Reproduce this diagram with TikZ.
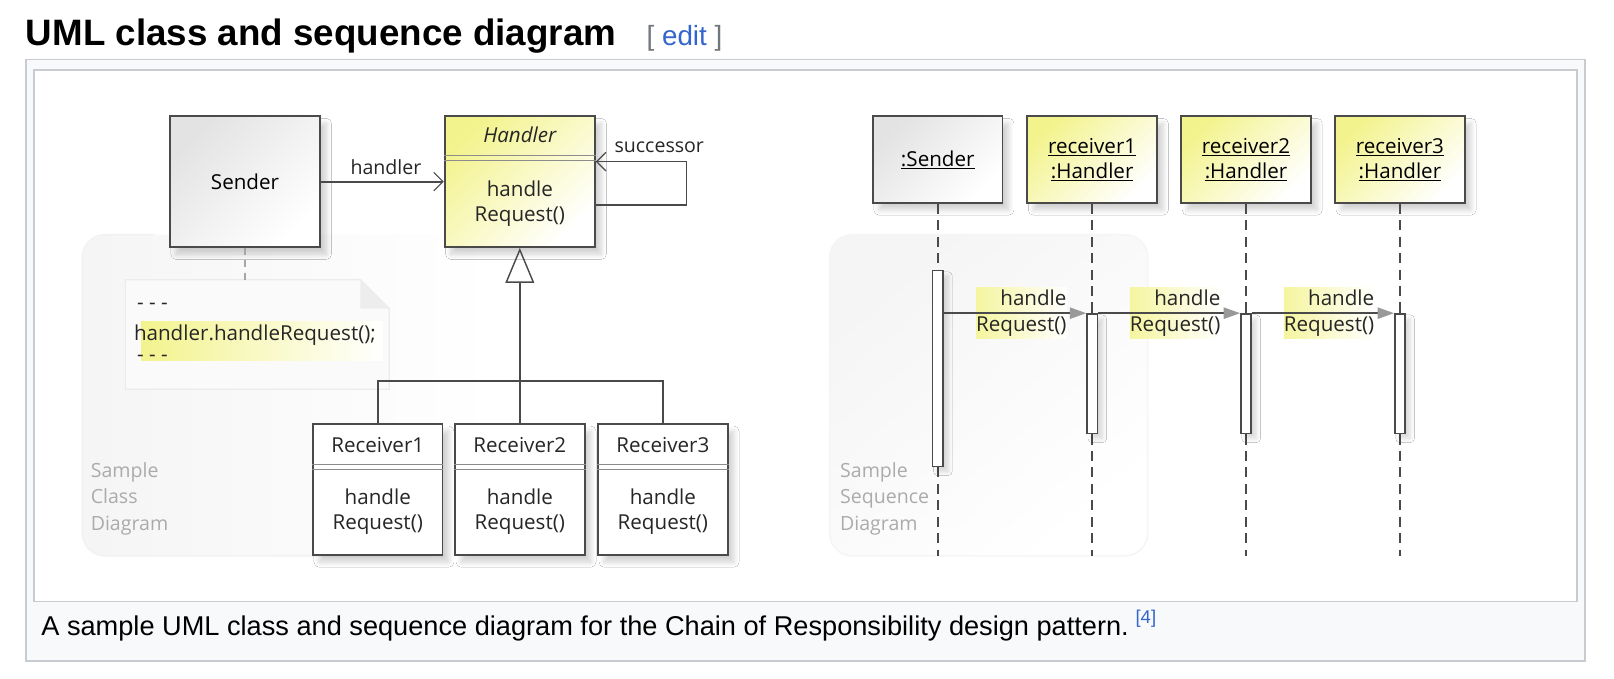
\documentclass[tikz,border=0pt]{standalone}
\usepackage{fontspec}
\setmainfont{Liberation Sans}
\newfontfamily\umlfont{Open Sans}
\usetikzlibrary{arrows.meta,shadows.blur}

\definecolor{linkblue}{HTML}{3366CC}
\definecolor{bracketgray}{HTML}{72777D}
\definecolor{framegray}{HTML}{C8CCD1}
\definecolor{pagegray}{HTML}{F8F9FA}
\definecolor{umldark}{HTML}{4A4A4A}
\definecolor{umlyellow}{HTML}{F3F38E}
\definecolor{palegray}{HTML}{ABABAB}
\newcommand{\umlsize}{\umlfont\fontsize{20}{24}\selectfont}

\begin{document}
\begin{tikzpicture}[x=1pt,y=-1pt]
\tikzset{classbox/.style = {draw=umldark, line width=1.7pt, inner sep=0pt, minimum width=126pt, minimum height=127pt, font=\umlsize, align=center,
  blur shadow={shadow xshift=6pt, shadow yshift=-7pt, shadow blur radius=5pt, shadow blur steps=8, shadow opacity=18}}}
\tikzset{graybox/.style = {classbox, top color=black!11, bottom color=white, shading angle=45}}
\tikzset{yellowbox/.style = {classbox, top color=umlyellow, bottom color=white, shading angle=45}}
\tikzset{umltext/.style = {font=\umlsize, text=black!85, align=center, inner sep=0pt}}
\tikzset{smalltext/.style = {font=\umlfont\fontsize{19}{22}\selectfont, text=black!85, inner sep=0pt}}
\tikzset{paletext/.style = {font=\umlfont\fontsize{19}{25.5}\selectfont, text=palegray, align=left, anchor=west, inner sep=0pt}}
\tikzset{sep/.style = {draw=black!45, line width=1.2pt}}
\tikzset{assoc/.style = {draw=umldark, line width=1.6pt, -{Straight Barb[length=9pt, width=18pt, line width=1.1pt]}}}
\tikzset{hier/.style = {draw=umldark, line width=1.6pt}}
\tikzset{gen/.style = {hier, -{Triangle[open, length=34pt, width=28pt, line width=1.4pt]}}}
\tikzset{notelink/.style = {draw=black!35, line width=1.3pt, dash pattern=on 7pt off 5pt}}
\tikzset{lifeline/.style = {draw=umldark, line width=1.6pt, dash pattern=on 10pt off 6pt}}
\tikzset{actbar/.style = {draw=umldark, line width=1.5pt, fill=white, minimum width=10pt, inner sep=0pt,
  blur shadow={shadow xshift=5pt, shadow yshift=-5pt, shadow blur radius=4pt, shadow blur steps=8, shadow opacity=15}}}
\tikzset{msglabel/.style = {font=\umlfont\fontsize{20}{26}\selectfont, text=black!85, align=right, anchor=east,
  left color=umlyellow!85, right color=white, inner xsep=0pt, inner ysep=2pt}}
\tikzset{msg/.style = {draw=umldark, line width=1.6pt, -{Triangle[length=16pt, width=11pt, color=black!40]}}}
\useasboundingbox (0,0) rectangle (1568,659);
% page frame
\draw[draw=framegray, fill=pagegray, line width=1.5pt] (25,58) rectangle (1540,642);
\draw[draw=framegray, fill=white, line width=1.2pt] (33,68) rectangle (1532,584);
\node[anchor=base west, inner sep=0pt, font=\bfseries\fontsize{35.7}{40}\selectfont] (title) at (25,44) {UML class and sequence diagram};
\node[anchor=base west, inner sep=0pt, font=\fontsize{27}{30}\selectfont] (edit) at (628,44) {\textcolor{bracketgray}{[} \textcolor{linkblue}{edit} \textcolor{bracketgray}{]}};
\node[anchor=base west, inner sep=0pt, font=\fontsize{26.4}{30}\selectfont] (caption) at (40,617) {A sample UML class and sequence diagram for the Chain of Responsibility design pattern.};
\node[anchor=base west, inner sep=0pt, font=\fontsize{18}{20}\selectfont, text=linkblue] (ref) at (1103,606) {[4]};

% backdrops
\shade[rounded corners=22pt, left color=black!4, right color=white] (80,228) rectangle (480,540);
\draw[black!5, line width=1.5pt, rounded corners=22pt] (150,228) -- (80,228) -- (80,540) -- (420,540);
\shade[rounded corners=22pt, top color=black!4, bottom color=white, shading angle=40] (806,228) rectangle (1115,540);
\draw[rounded corners=22pt, draw=black!4, line width=1.5pt] (806,228) rectangle (1115,540);
\node[paletext] (classtag) at (88,484.5) {Sample\\Class\\Diagram};
\node[paletext] (seqtag) at (816,484.5) {Sample\\Sequence\\Diagram};

% note
\node[minimum width=256pt, minimum height=106pt, inner sep=0pt] (note) at (250,325) {};
\draw[draw=black!8, fill=black!2, line width=1.2pt] (note.north west) -- ([xshift=-28pt]note.north east) -- ([yshift=-28pt]note.north east) -- (note.south east) -- (note.south west) -- cycle;
\fill[black!7] ([xshift=-28pt]note.north east) -- ([yshift=-28pt]note.north east) -- ([xshift=-28pt,yshift=-28pt]note.north east) -- cycle;
\shade[left color=umlyellow, right color=white] (137,312) rectangle (372,350);
\node[umltext, anchor=west] (dots1) at (133,298) {- - -};
\node[umltext, anchor=west] (call) at (130,326) {handler.handleRequest();};
\node[umltext, anchor=west] (dots2) at (133,348) {- - -};

% classes
\node[graybox, minimum width=146pt] (sender) at (238,176.5) {Sender};
\node[yellowbox, minimum width=146pt] (handler) at (505,176.5) {};
\draw[sep] ([yshift=-39pt]handler.north west) -- ([yshift=-39pt]handler.north east);
\draw[sep] ([yshift=-44pt]handler.north west) -- ([yshift=-44pt]handler.north east);
\node[umltext, font=\umlsize\itshape] (handlername) at ([yshift=-19pt]handler.north) {Handler};
\node[umltext] (handlerop) at ([yshift=-86pt]handler.north) {handle\\Request()};

\node[classbox, fill=white] (recv1) at (367,475.5) {};
\draw[sep] ([yshift=-40pt]recv1.north west) -- ([yshift=-40pt]recv1.north east);
\draw[sep] ([yshift=-45pt]recv1.north west) -- ([yshift=-45pt]recv1.north east);
\node[umltext] (recv1name) at ([yshift=-21pt]recv1.north) {Receiver1};
\node[umltext] (recv1op) at ([yshift=-86pt]recv1.north) {handle\\Request()};

\node[classbox, fill=white] (recv2) at (505,475.5) {};
\draw[sep] ([yshift=-40pt]recv2.north west) -- ([yshift=-40pt]recv2.north east);
\draw[sep] ([yshift=-45pt]recv2.north west) -- ([yshift=-45pt]recv2.north east);
\node[umltext] (recv2name) at ([yshift=-21pt]recv2.north) {Receiver2};
\node[umltext] (recv2op) at ([yshift=-86pt]recv2.north) {handle\\Request()};

\node[classbox, fill=white] (recv3) at (644,475.5) {};
\draw[sep] ([yshift=-40pt]recv3.north west) -- ([yshift=-40pt]recv3.north east);
\draw[sep] ([yshift=-45pt]recv3.north west) -- ([yshift=-45pt]recv3.north east);
\node[umltext] (recv3name) at ([yshift=-21pt]recv3.north) {Receiver3};
\node[umltext] (recv3op) at ([yshift=-86pt]recv3.north) {handle\\Request()};

% class edges
\draw[notelink] (sender.south) -- (sender.south |- note.north);
\draw[assoc] (sender.east) -- (handler.west) node[pos=1, smalltext, anchor=base east, xshift=-21pt, yshift=7pt] (handlerlabel) {handler};
\draw[assoc] ([yshift=-22.5pt]handler.east) -- ++(88,0) |- ([yshift=19.5pt]handler.east);
\node[smalltext, anchor=base west] (succlabel) at ([xshift=18pt,yshift=28pt]handler.east) {successor};
\coordinate (hub) at (505,370);
\draw[hier] (recv1.north) |- (hub) -| (recv3.north);
\draw[gen] (recv2.north) -- (handler.south);

% lifelines
\node[graybox, minimum height=84pt] (lsender) at (911,155) {\underline{:Sender}};
\node[yellowbox, minimum height=84pt] (lrecv1) at (1061,155) {\underline{receiver1}\\\underline{:Handler}};
\node[yellowbox, minimum height=84pt] (lrecv2) at (1210.5,155) {\underline{receiver2}\\\underline{:Handler}};
\node[yellowbox, minimum height=84pt] (lrecv3) at (1360,155) {\underline{receiver3}\\\underline{:Handler}};
\coordinate (end0) at (911,540);
\coordinate (end1) at (1061,540);
\coordinate (end2) at (1210.5,540);
\coordinate (end3) at (1360,540);
\draw[lifeline] (lsender) -- (end0);
\draw[lifeline] (lrecv1) -- (end1);
\draw[lifeline] (lrecv2) -- (end2);
\draw[lifeline] (lrecv3) -- (end3);
\node[actbar, minimum height=190pt] (act0) at (911,358) {};
\node[actbar, minimum height=116pt] (act1) at (1061,363) {};
\node[actbar, minimum height=116pt] (act2) at (1210.5,363) {};
\node[actbar, minimum height=116pt] (act3) at (1360,363) {};

% messages
\node[msglabel] (msg1) at ([xshift=-19pt]act1.north west) {handle\\Request()};
\node[msglabel] (msg2) at ([xshift=-19pt]act2.north west) {handle\\Request()};
\node[msglabel] (msg3) at ([xshift=-19pt]act3.north west) {handle\\Request()};
\draw[msg] (act0.east |- act1.north) -- (act1.north west);
\draw[msg] (act1.north east) -- (act2.north west);
\draw[msg] (act2.north east) -- (act3.north west);
\end{tikzpicture}
\end{document}
